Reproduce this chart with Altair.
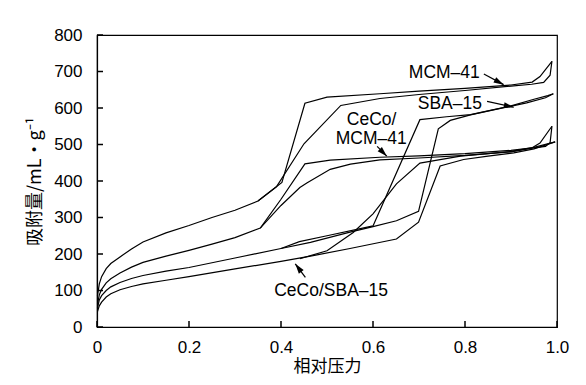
import math
import altair as alt
import pandas as pd

# ---------------- data ----------------
X_TICKS = [0, 0.2, 0.4, 0.6, 0.8, 1.0]
Y_TICKS = [0, 100, 200, 300, 400, 500, 600, 700, 800]

# MCM-41
MCM41_ADS_X = [0.001, 0.005, 0.01, 0.02, 0.03, 0.05, 0.075, 0.1, 0.15, 0.2, 0.25, 0.3, 0.35, 0.39, 0.45, 0.53, 0.615, 0.7, 0.8, 0.9, 0.945, 0.971, 0.985, 0.989]
MCM41_ADS_Y = [85, 118, 138, 160, 174, 192, 214, 233, 258, 278, 300, 320, 345, 384, 502, 607, 626, 637, 648, 660, 665, 670, 690, 728]
MCM41_DES_X = [0.35, 0.402, 0.452, 0.5, 0.615, 0.7, 0.8, 0.9, 0.946, 0.963, 0.989]
MCM41_DES_Y = [345, 396, 613, 630, 639, 646, 654, 663, 671, 686, 728]

# CeCo/MCM-41
CMCM_ADS_X = [0.001, 0.005, 0.01, 0.02, 0.03, 0.05, 0.075, 0.1, 0.15, 0.2, 0.25, 0.3, 0.355, 0.4, 0.441, 0.457, 0.507, 0.551, 0.615, 0.7, 0.8, 0.9, 0.946, 0.975, 0.985, 0.989]
CMCM_ADS_Y = [62, 88, 103, 121, 132, 148, 164, 177, 194, 210, 227, 245, 271, 333, 382, 395, 432, 446, 458, 463, 470, 480, 490, 495, 505, 550]
CMCM_DES_X = [0.355, 0.4, 0.452, 0.507, 0.615, 0.7, 0.8, 0.9, 0.946, 0.963, 0.989]
CMCM_DES_Y = [271, 350, 447, 457, 465, 469, 475, 484, 491, 504, 550]

# SBA-15
SBA_ADS_X = [0.001, 0.005, 0.01, 0.02, 0.03, 0.05, 0.075, 0.1, 0.15, 0.2, 0.3, 0.4, 0.464, 0.55, 0.6, 0.651, 0.699, 0.742, 0.768, 0.812, 0.862, 0.934, 0.975, 0.992]
SBA_ADS_Y = [52, 74, 86, 100, 110, 122, 133, 141, 153, 163, 189, 215, 232, 260, 275, 291, 317, 543, 566, 581, 595, 614, 628, 639]
SBA_DES_X = [0.4, 0.44, 0.5, 0.6, 0.702, 0.76, 0.812, 0.9, 0.95, 0.98, 0.992]
SBA_DES_Y = [215, 234, 250, 277, 568, 576, 582, 606, 624, 634, 639]

# CeCo/SBA-15
CSBA_ADS_X = [0.001, 0.005, 0.01, 0.02, 0.03, 0.05, 0.075, 0.1, 0.15, 0.2, 0.3, 0.4, 0.464, 0.55, 0.651, 0.699, 0.746, 0.797, 0.85, 0.906, 0.95, 0.996]
CSBA_ADS_Y = [42, 58, 68, 82, 91, 102, 111, 118, 128, 138, 159, 180, 194, 215, 241, 287, 441, 459, 468, 477, 488, 507]
CSBA_DES_X = [0.441, 0.5, 0.557, 0.6, 0.651, 0.702, 0.79, 0.9, 0.95, 0.996]
CSBA_DES_Y = [187, 209, 259, 310, 392, 449, 468, 481, 492, 507]

# annotations
LABEL_TEXT = ["MCM–41", "SBA–15", "CeCo/", "MCM–41", "CeCo/SBA–15"]
LABEL_X = [0.755, 0.767, 0.597, 0.596, 0.509]
LABEL_Y = [695, 611, 566, 516, 100]

ARROW_X0 = [0.841, 0.848, 0.609, 0.453]
ARROW_Y0 = [693, 618, 495, 136]
ARROW_X1 = [0.884, 0.906, 0.630, 0.431]
ARROW_Y1 = [664, 602, 468, 173]

# ---------------- chart ----------------
W, H = 460, 292
XMAX, YMAX = 1.0, 800

rows = []
def add(sample, branch, xs, ys):
    for i, (x, y) in enumerate(zip(xs, ys)):
        rows.append(dict(key=f"{sample}-{branch}", i=i, x=x, y=y))

add("MCM-41", "ads", MCM41_ADS_X, MCM41_ADS_Y)
add("MCM-41", "des", MCM41_DES_X, MCM41_DES_Y)
add("CeCo/MCM-41", "ads", CMCM_ADS_X, CMCM_ADS_Y)
add("CeCo/MCM-41", "des", CMCM_DES_X, CMCM_DES_Y)
add("SBA-15", "ads", SBA_ADS_X, SBA_ADS_Y)
add("SBA-15", "des", SBA_DES_X, SBA_DES_Y)
add("CeCo/SBA-15", "ads", CSBA_ADS_X, CSBA_ADS_Y)
add("CeCo/SBA-15", "des", CSBA_DES_X, CSBA_DES_Y)
df = pd.DataFrame(rows)

labels = pd.DataFrame({"text": LABEL_TEXT, "x": LABEL_X, "y": LABEL_Y})

arr = []
for x0, y0, x1, y1 in zip(ARROW_X0, ARROW_Y0, ARROW_X1, ARROW_Y1):
    dx = (x1 - x0) / XMAX * W
    dy = -(y1 - y0) / YMAX * H
    ang = math.degrees(math.atan2(dx, -dy)) % 360
    arr.append(dict(x0=x0, y0=y0, x1=x1, y1=y1, angle=ang))
arrows = pd.DataFrame(arr)

xs = alt.Scale(domain=[0, XMAX], nice=False, zero=False)
ys = alt.Scale(domain=[0, YMAX], nice=False, zero=False)
XT = "相对压力"
YT = "吸附量/mL・g⁻¹"
AX = alt.Axis(values=X_TICKS, labelExpr="datum.value == 0 ? '0' : format(datum.value, '.1f')",
              labelPadding=12, titlePadding=3, labelFlush=False)
AY = alt.Axis(values=Y_TICKS, labelPadding=15, titlePadding=9, labelFlush=False,
              titleFontSize=18)

def X(f):
    return alt.X(f, scale=xs, title=XT, axis=AX)

def Y(f):
    return alt.Y(f, scale=ys, title=YT, axis=AY)

lines = alt.Chart(df).mark_line(color="black", strokeWidth=1.2).encode(
    x=X("x:Q"), y=Y("y:Q"), detail="key:N", order="i:Q",
)

xticks = alt.Chart(pd.DataFrame({"t": X_TICKS})).mark_rule(color="black", strokeWidth=1.5).encode(
    x=X("t:Q"), y=alt.value(H), y2=alt.value(H - 6),
)
yticks = alt.Chart(pd.DataFrame({"t": Y_TICKS})).mark_rule(color="black", strokeWidth=1.5).encode(
    y=Y("t:Q"), x=alt.value(0), x2=alt.value(6),
)

text = alt.Chart(labels).mark_text(font="Liberation Sans", fontSize=17.5, align="center",
                                   baseline="middle", color="black").encode(
    x=X("x:Q"), y=Y("y:Q"), text="text:N",
)

arrow_lines = alt.Chart(arrows).mark_rule(color="black", strokeWidth=1.2).encode(
    x=X("x0:Q"), y=Y("y0:Q"), x2="x1:Q", y2="y1:Q",
)
arrow_heads = alt.Chart(arrows).mark_point(
    shape="M0,0 L0.6,2 L-0.6,2 Z", size=100, filled=True, color="black", opacity=1
).encode(
    x=X("x1:Q"), y=Y("y1:Q"), angle=alt.Angle("angle:Q", scale=None),
)

chart = alt.layer(lines, xticks, yticks, text, arrow_lines, arrow_heads).properties(
    width=W, height=H,
    padding={"left": 89, "top": 27, "right": 20, "bottom": 50},
    autosize=alt.AutoSizeParams(type="none"),
).configure_view(
    stroke="black", strokeWidth=1.2
).configure_axis(
    domainColor="black", domainWidth=1.2, ticks=False, grid=False,
    labelFont="Liberation Sans", labelFontSize=17, labelColor="black",
    titleFont="Noto Sans CJK SC", titleFontSize=17, titleFontWeight="normal", titleColor="black",
)

chart.save("out.html", embed_options={"renderer": "svg", "actions": False})
